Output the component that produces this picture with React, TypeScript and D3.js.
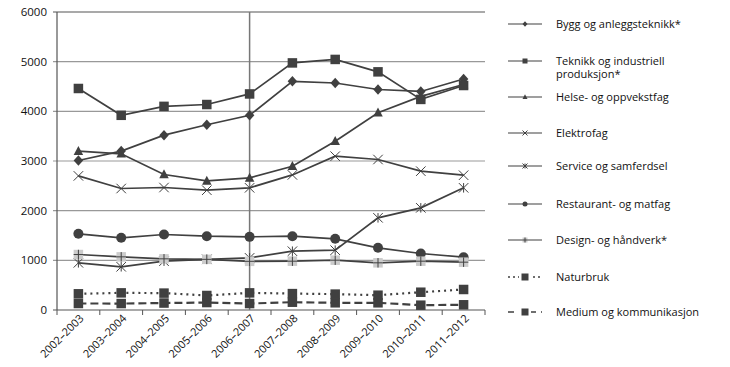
import React from "react";
import * as d3 from "d3";

const WIDTH = 730;
const HEIGHT = 367;
const MARGIN = { top: 12, right: 245, bottom: 57, left: 57 };

const years = [
  "2002–2003", "2003–2004", "2004–2005", "2005–2006", "2006–2007",
  "2007–2008", "2008–2009", "2009–2010", "2010–2011", "2011–2012",
];
const yTicks = [0, 1000, 2000, 3000, 4000, 5000, 6000];

const bygg = [3010, 3200, 3520, 3730, 3920, 4605, 4570, 4440, 4400, 4650];
const teknikk = [4460, 3920, 4100, 4137, 4350, 4975, 5045, 4795, 4240, 4520];
const helse = [3197, 3145, 2728, 2600, 2660, 2895, 3398, 3970, 4300, 4540];
const elektro = [2700, 2446, 2466, 2412, 2460, 2720, 3097, 3030, 2795, 2714];
const service = [950, 870, 983, 1020, 1050, 1184, 1204, 1856, 2057, 2460];
const restaurant = [1534, 1453, 1520, 1486, 1473, 1486, 1433, 1252, 1137, 1063];
const design = [1117, 1070, 1030, 1020, 980, 983, 1003, 950, 983, 963];
const naturbruk = [326, 345, 340, 292, 345, 330, 320, 298, 358, 413];
const medium = [131, 130, 140, 150, 130, 157, 145, 145, 97, 105];

type Marker = "diamond" | "square" | "triangle" | "x" | "star" | "circle" | "design";

const series: { name: string[]; values: number[]; marker: Marker; dash?: string }[] = [
  { name: ["Bygg og anleggsteknikk*"], values: bygg, marker: "diamond" },
  { name: ["Teknikk og industriell", "produksjon*"], values: teknikk, marker: "square" },
  { name: ["Helse- og oppvekstfag"], values: helse, marker: "triangle" },
  { name: ["Elektrofag"], values: elektro, marker: "x" },
  { name: ["Service og samferdsel"], values: service, marker: "star" },
  { name: ["Restaurant- og matfag"], values: restaurant, marker: "circle" },
  { name: ["Design- og håndverk*"], values: design, marker: "design" },
  { name: ["Naturbruk"], values: naturbruk, marker: "square", dash: "2,4" },
  { name: ["Medium og kommunikasjon"], values: medium, marker: "square", dash: "8,4" },
];

const legendY = [24, 61, 97, 133, 166, 204, 240, 277, 312];

const DARK = "#404040";
const FONT = "'Open Sans', 'DejaVu Sans', sans-serif";

function MarkerShape({ type, x, y, s }: { type: Marker; x: number; y: number; s: number }) {
  const h = s / 2;
  switch (type) {
    case "diamond":
      return <path d={`M${x},${y - h * 1.1}L${x + h},${y}L${x},${y + h * 1.1}L${x - h},${y}Z`} fill={DARK} />;
    case "square":
      return <rect x={x - h} y={y - h} width={s} height={s} fill={DARK} />;
    case "triangle":
      return <path d={`M${x},${y - h * 1.1}L${x + h},${y + h * 0.8}L${x - h},${y + h * 0.8}Z`} fill={DARK} />;
    case "circle":
      return <circle cx={x} cy={y} r={h} fill={DARK} />;
    case "x":
      return (
        <path d={`M${x - h},${y - h}L${x + h},${y + h}M${x - h},${y + h}L${x + h},${y - h}`} stroke={DARK} strokeWidth={1} fill="none" />
      );
    case "star":
      return (
        <path
          d={`M${x - h},${y - h}L${x + h},${y + h}M${x - h},${y + h}L${x + h},${y - h}M${x},${y - h}L${x},${y + h}`}
          stroke={DARK}
          strokeWidth={1}
          fill="none"
        />
      );
    case "design":
      return (
        <g>
          <rect x={x - h} y={y - h} width={s} height={s} fill="#cccccc" />
          <path d={`M${x - h},${y}L${x + h},${y}M${x},${y - h}L${x},${y + h}`} stroke={DARK} strokeWidth={1} />
        </g>
      );
  }
}

export default function App() {
  const innerW = WIDTH - MARGIN.left - MARGIN.right;
  const innerH = HEIGHT - MARGIN.top - MARGIN.bottom;
  const x = d3.scaleBand().domain(years).range([MARGIN.left, MARGIN.left + innerW]);
  const y = d3.scaleLinear().domain([0, 6000]).range([MARGIN.top + innerH, MARGIN.top]);
  const cx = (i: number) => (x(years[i]) as number) + x.bandwidth() / 2;
  const lineGen = d3
    .line<number>()
    .x((_, i) => cx(i))
    .y((d) => y(d));

  const right = MARGIN.left + innerW;
  const bottom = y(0);
  const boundaries = years.map((yr) => x(yr) as number).concat([right]);
  const vLineX = cx(years.indexOf("2006–2007"));

  return (
    <svg width={WIDTH} height={HEIGHT} style={{ position: "absolute", left: 0, top: 0, background: "#fff" }} fontFamily={FONT}>
      {yTicks.map((t) => (
        <g key={t}>
          <line
            x1={MARGIN.left - 4}
            x2={right}
            y1={y(t)}
            y2={y(t)}
            stroke={t === 6000 || t === 0 ? "#555" : "#999"}
            strokeWidth={1.2}
          />
          <text x={MARGIN.left - 10} y={y(t)} dy="0.35em" textAnchor="end" fontSize={11.5} fill="#111">
            {t}
          </text>
        </g>
      ))}
      <line x1={MARGIN.left} x2={MARGIN.left} y1={y(6000)} y2={bottom} stroke="#555" strokeWidth={1.2} />
      {boundaries.map((b, i) => (
        <line key={i} x1={b} x2={b} y1={bottom} y2={bottom + 5} stroke="#555" strokeWidth={1} />
      ))}
      <line x1={vLineX} x2={vLineX} y1={y(6000)} y2={bottom} stroke="#777" strokeWidth={1.5} />
      {years.map((yr, i) => (
        <text
          key={yr}
          transform={`translate(${cx(i) + 6},${bottom + 9}) rotate(-45)`}
          textAnchor="end"
          fontSize={11}
          fill="#111"
        >
          {yr}
        </text>
      ))}
      {series.map((s) => (
        <g key={s.name.join(" ")}>
          <path d={lineGen(s.values) || ""} fill="none" stroke={DARK} strokeWidth={s.dash ? 2.2 : 1.7} strokeDasharray={s.dash} />
          {s.values.map((v, i) => (
            <MarkerShape key={i} type={s.marker} x={cx(i)} y={y(v)} s={s.marker === "circle" ? 10 : 9.5} />
          ))}
        </g>
      ))}
      {series.map((s, k) => (
        <g key={"leg" + k}>
          <line x1={508} x2={542} y1={legendY[k]} y2={legendY[k]} stroke={DARK} strokeWidth={s.dash ? 1.5 : 1.2} strokeDasharray={s.dash ? (s.dash === "2,4" ? "2,3" : "6,5") : undefined} />
          {s.dash && <rect x={519} y={legendY[k] - 5} width={12} height={10} fill="#fff" />}
          <MarkerShape type={s.marker} x={525} y={legendY[k]} s={s.dash ? 7 : 5} />
          {s.name.map((ln, j) => (
            <text key={j} x={556} y={legendY[k] + j * 13.5} dy="0.35em" fontSize={11} fill="#111">
              {ln}
            </text>
          ))}
        </g>
      ))}
    </svg>
  );
}
